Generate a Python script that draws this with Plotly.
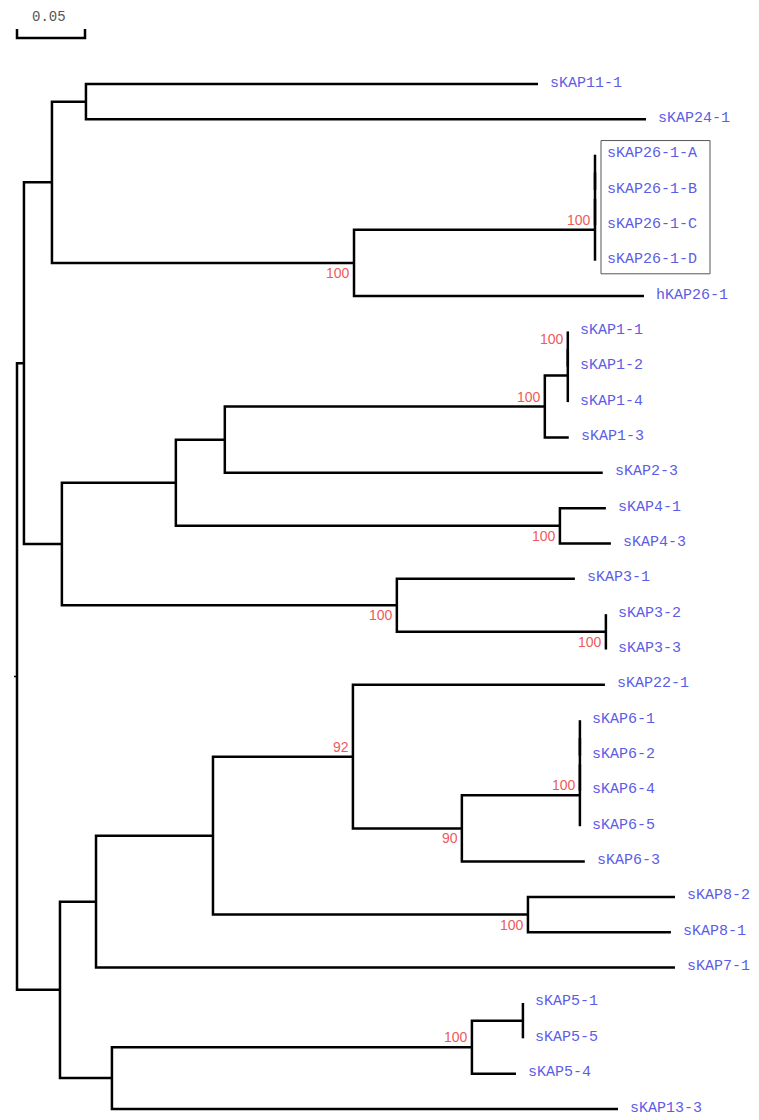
import plotly.graph_objects as go

# ---------------- data ----------------
# tree nodes in pre-order (parents listed before children; child order = top-to-bottom)
node_names = [
    "root", "cladeA", "cladeA1", "cladeA1a", "sKAP11-1", "sKAP24-1",
    "cladeA1b", "n26", "n26b", "n26c", "sKAP26-1-A", "sKAP26-1-B", "sKAP26-1-C", "sKAP26-1-D",
    "hKAP26-1",
    "cladeA2", "cladeA2a", "cladeA2a1", "n1", "n1i", "n1j", "sKAP1-1", "sKAP1-2", "sKAP1-4",
    "sKAP1-3", "sKAP2-3", "n4", "sKAP4-1", "sKAP4-3", "n3", "sKAP3-1", "n32", "sKAP3-2", "sKAP3-3",
    "cladeB", "cladeB1", "cladeB1a", "n92", "sKAP22-1", "n90", "n6", "n6b", "n6c",
    "sKAP6-1", "sKAP6-2", "sKAP6-4", "sKAP6-5", "sKAP6-3", "n8", "sKAP8-2", "sKAP8-1",
    "sKAP7-1", "cladeB2", "n5", "n5i", "sKAP5-1", "sKAP5-5", "sKAP5-4", "sKAP13-3",
]
node_parent = [
    -1, 0, 1, 2, 3, 3,
    2, 6, 7, 8, 9, 9, 8, 7,
    6,
    1, 15, 16, 17, 18, 19, 20, 20, 19,
    18, 17, 16, 26, 26, 15, 29, 29, 31, 31,
    0, 34, 35, 36, 37, 37, 39, 40, 41,
    42, 42, 41, 40, 39, 36, 48, 48,
    35, 34, 52, 53, 54, 54, 53, 52,
]
branch_length = [
    0.0, 0.0051, 0.0206, 0.0250, 0.3324, 0.4118,
    0.2221, 0.1772, 0.0, 0.0, 0.0, 0.0, 0.0, 0.0,
    0.2132,
    0.0279, 0.0838, 0.0360, 0.2353, 0.0169, 0.0, 0.0, 0.0, 0.0,
    0.0176, 0.2779, 0.2824, 0.0338, 0.0375, 0.2463, 0.1309, 0.1537, 0.0, 0.0,
    0.0316, 0.0265, 0.0860, 0.1029, 0.1853, 0.0801, 0.0868, 0.0, 0.0,
    0.0, 0.0, 0.0, 0.0, 0.0904, 0.2316, 0.1081, 0.1051,
    0.4257, 0.0382, 0.2647, 0.0375, 0.0, 0.0, 0.0324, 0.3721,
]
bootstrap_nodes = ["cladeA1b", "n26", "n1", "n1j", "n4", "n3", "n32", "n92", "n90", "n6", "n8", "n5"]
bootstrap_values = [100, 100, 100, 100, 100, 100, 100, 92, 90, 100, 100, 100]
boxed_leaves = ["sKAP26-1-A", "sKAP26-1-D"]
scale_length = 0.05
scale_label = "0.05"

# ---------------- styles ----------------
PAGE_W, PAGE_H = 759, 1120
BODY = 8                           # default page margin around the plot div
W, H = PAGE_W - BODY, PAGE_H - BODY
PX = scale_length / 68.0           # data units per pixel horizontally
ROOT_PX = 17                       # root x in page pixels
LEAF_TOP_PX, LEAF_STEP_PX = 84, (1109 - 84) / 29.0
LINE_W = 2.5
BLUE = "#5c5ce6"
RED = "#f05a5a"
bs_above = {"n26", "n1", "n1j", "n92", "n6", "n5"}

# ---------------- layout of tree ----------------
n = len(node_names)
children = [[] for _ in range(n)]
for i, p in enumerate(node_parent):
    if p >= 0:
        children[p].append(i)
depth = [0.0] * n
for i in range(n):
    p = node_parent[i]
    depth[i] = (depth[p] if p >= 0 else 0.0) + branch_length[i]
ypos = [0.0] * n
leaf_counter = 0
for i in range(n):
    if not children[i]:
        ypos[i] = leaf_counter
        leaf_counter += 1
for i in reversed(range(n)):
    if children[i]:
        ypos[i] = (ypos[children[i][0]] + ypos[children[i][-1]]) / 2.0

def py(pix):  # page pixel row -> y data
    return (pix - LEAF_TOP_PX) / LEAF_STEP_PX

def px(pix):  # page pixel column -> x data
    return (pix - ROOT_PX) * PX

xs, ys = [], []
for i in range(n):
    if children[i]:
        c1, c2 = children[i][0], children[i][-1]
        xs += [depth[c1], depth[i], depth[i], depth[c2], None]
        ys += [ypos[c1], ypos[c1], ypos[c2], ypos[c2], None]
        for c in children[i][1:-1]:
            xs += [depth[i], depth[c], None]
            ys += [ypos[c], ypos[c], None]

fig = go.Figure()
fig.add_trace(go.Scatter(x=xs, y=ys, mode="lines",
                         line=dict(color="black", width=LINE_W),
                         hoverinfo="skip", showlegend=False))
# root stub
fig.add_trace(go.Scatter(x=[-3 * PX, 0], y=[ypos[0], ypos[0]], mode="lines",
                         line=dict(color="black", width=1.5), hoverinfo="skip", showlegend=False))
# scale bar
yb, yt = py(38), py(29)
fig.add_trace(go.Scatter(x=[0, 0, scale_length, scale_length], y=[yt, yb, yb, yt], mode="lines",
                         line=dict(color="black", width=LINE_W), hoverinfo="skip", showlegend=False))

annotations = []
annotations.append(dict(x=scale_length / 2 - 2 * PX, y=py(17), text=scale_label, showarrow=False,
                        xanchor="center", yanchor="middle",
                        font=dict(family="Liberation Mono, monospace", size=14, color="#555555")))
for i in range(n):
    if not children[i]:
        annotations.append(dict(x=depth[i], y=ypos[i], text=node_names[i], showarrow=False,
                                xanchor="left", yanchor="middle", xshift=10, yshift=1,
                                font=dict(family="Liberation Mono, Courier New, monospace",
                                          size=15, color=BLUE)))
for name, val in zip(bootstrap_nodes, bootstrap_values):
    i = node_names.index(name)
    annotations.append(dict(x=depth[i], y=ypos[i], text=str(val), showarrow=False,
                            xanchor="right", yanchor="middle", xshift=-2,
                            yshift=10 if name in bs_above else -10,
                            font=dict(family="Liberation Sans, Arial, sans-serif",
                                      size=14, color=RED)))

# box around a group of leaves
ia, idd = node_names.index(boxed_leaves[0]), node_names.index(boxed_leaves[1])
bx0 = depth[ia] + 6 * PX
shapes = [dict(type="rect", xref="x", yref="y",
               x0=bx0, x1=bx0 + 109 * PX,
               y0=ypos[ia] - 0.4, y1=ypos[idd] + 0.37,
               line=dict(color="#555555", width=1), fillcolor="rgba(0,0,0,0)")]

fig.update_layout(
    width=W, height=H, margin=dict(l=0, r=0, t=0, b=0),
    paper_bgcolor="white", plot_bgcolor="white",
    xaxis=dict(range=[px(BODY), px(PAGE_W)], visible=False, fixedrange=True),
    yaxis=dict(range=[py(PAGE_H), py(BODY)], visible=False, fixedrange=True),
    annotations=annotations, shapes=shapes, showlegend=False,
)
fig.write_html("out.html")
